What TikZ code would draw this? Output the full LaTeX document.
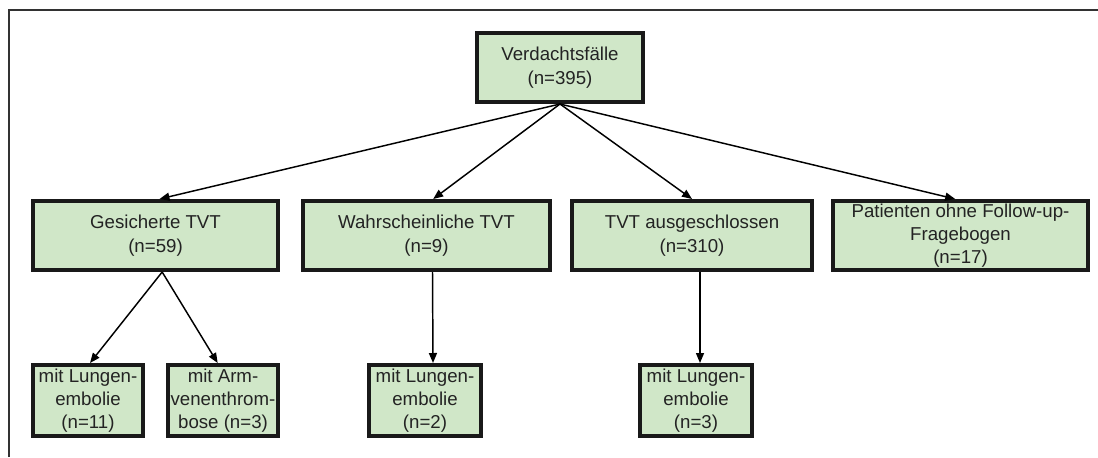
\documentclass[tikz,border=0pt]{standalone}
\usepackage{fontspec}
\setmainfont{Liberation Sans}
\usetikzlibrary{arrows.meta}
\definecolor{boxfill}{RGB}{208,231,200}
\definecolor{txt}{RGB}{35,35,35}
\definecolor{framec}{RGB}{50,50,50}
\tikzset{
  box/.style={draw=black!90, line width=3pt, fill=boxfill, text=txt, align=center,
    inner sep=0pt, font=\fontsize{14}{17.5}\selectfont},
  bigbox/.style={box, minimum height=51.75pt},
  smallbox/.style={box, minimum height=53.25pt, minimum width=82.5pt},
  conn/.style={line width=1.1pt, black, -{Triangle[length=7.5pt,width=6pt]}},
  frameline/.style={line width=1.6pt, framec}
}
\begin{document}
\begin{tikzpicture}[x=0.75pt,y=-0.75pt]
\useasboundingbox (0,0) rectangle (1098,457);
\coordinate (fa) at (9,457);
\coordinate (fb) at (9,10);
\coordinate (fc) at (1098,10);
\draw[frameline] (fa) -- (fb) -- (fc);

\node[bigbox, minimum width=124.5pt] (root) at (560,67.5) {Verdachtsfälle\\(n=395)};

\node[bigbox, minimum width=183.75pt] (g) at (155.5,235.5) {Gesicherte TVT\\(n=59)};
\node[bigbox, minimum width=185.25pt] (w) at (426.5,235.5) {Wahrscheinliche TVT\\(n=9)};
\node[bigbox, minimum width=180pt] (a) at (692,235.5) {TVT ausgeschlossen\\(n=310)};
\node[bigbox, minimum width=191.25pt] (p) at (960.5,235.5) {Patienten ohne Follow-up-\\Fragebogen\\(n=17)};

\node[smallbox] (b1) at (88,400.5) {mit Lungen-\\embolie\\(n=11)};
\node[smallbox] (b2) at (223,400.5) {mit Arm-\\venenthrom-\\bose (n=3)};
\node[smallbox, minimum width=84pt] (b3) at (425,400.5) {mit Lungen-\\embolie\\(n=2)};
\node[smallbox, minimum width=84pt] (b4) at (696,400.5) {mit Lungen-\\embolie\\(n=3)};

\draw[conn] (root.south) -- ([xshift=3pt]g.north);
\draw[conn] (root.south) -- ([xshift=5pt]w.north);
\draw[conn] (root.south) -- (a.north);
\draw[conn] (root.south) -- ([xshift=-4pt]p.north);

\draw[conn] ([xshift=5pt]g.south) -- ([xshift=1.5pt]b1.north);
\draw[conn] ([xshift=5pt]g.south) -- ([xshift=-4pt]b2.north);
\draw[conn] ([xshift=4.5pt]w.south) -- ([xshift=6pt]b3.north);
\draw[conn] ([xshift=6pt]a.south) -- ([xshift=3pt]b4.north);
\end{tikzpicture}
\end{document}
